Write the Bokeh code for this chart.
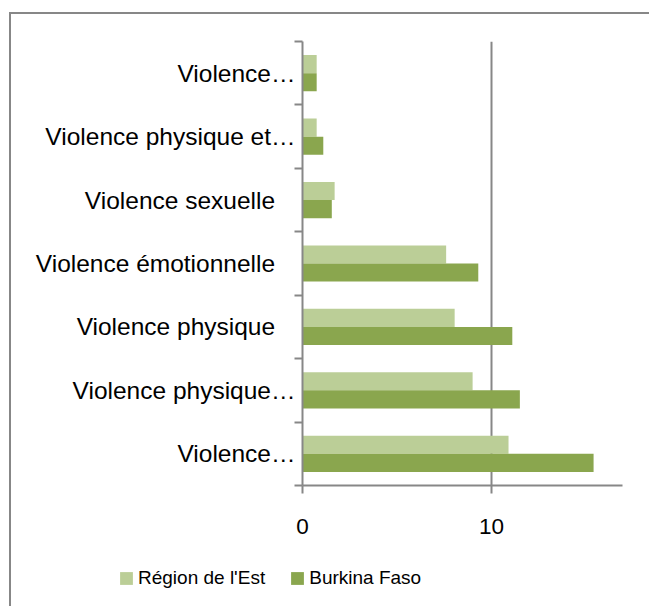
from bokeh.plotting import figure
from bokeh.models import ColumnDataSource, FixedTicker, Legend, LegendItem, Range1d
from bokeh.layouts import column
from bokeh.transform import dodge
from bokeh.embed import file_html
from bokeh.resources import INLINE

# Categories, top to bottom as shown
labels = ["Violence…", "Violence physique et…", "Violence sexuelle",
          "Violence émotionnelle", "Violence physique", "Violence physique…",
          "Violence…"]
region_est = [0.75, 0.75, 1.7, 7.6, 8.05, 9.0, 10.9]
burkina = [0.75, 1.1, 1.55, 9.3, 11.1, 11.5, 15.4]
series_names = ["Région de l'Est", "Burkina Faso"]
x_ticks = [0, 10]

LIGHT = "#BBCE97"
DARK = "#8AA64E"
GRAY = "#878787"
FONT = "Liberation Sans"

n = len(labels)
ypos = [n - 0.5 - i for i in range(n)]
src = ColumnDataSource(dict(y=ypos, region=region_est, burkina=burkina))

W = 638
H_MAIN, H_LEG = 534, 58
p = figure(width=W, height=H_MAIN, x_range=Range1d(0, 16.93), y_range=Range1d(0, n),
           output_backend="svg", toolbar_location=None,
           min_border_left=291, min_border_right=27, min_border_top=27,
           min_border_bottom=63)
p.frame_align = False
p.outline_line_color = None
p.background_fill_color = "white"
p.border_fill_color = "white"

bh = 1 / 3.5
off = bh / 2
r1 = p.hbar(y=dodge("y", off), left=0, right="region", height=bh, color=LIGHT,
            line_color=None, source=src)
r2 = p.hbar(y=dodge("y", -off), left=0, right="burkina", height=bh, color=DARK,
            line_color=None, source=src)

p.xgrid.ticker = FixedTicker(ticks=[10])
p.xgrid.grid_line_color = GRAY
p.xgrid.grid_line_width = 2
p.ygrid.grid_line_color = None

pad = {"Violence sexuelle": "\u00a0\u00a0\u00a0", "Violence émotionnelle": "\u00a0\u00a0\u00a0",
       "Violence physique": "\u00a0\u00a0\u00a0"}
ya = p.yaxis[0]
ya.ticker = FixedTicker(ticks=ypos, minor_ticks=list(range(n + 1)))
ya.major_label_overrides = {ypos[i]: labels[i] + pad.get(labels[i], "") for i in range(n)}
ya.major_tick_line_color = None
ya.major_tick_out = 0
ya.major_tick_in = 0
ya.minor_tick_out = 8
ya.minor_tick_in = 0
ya.minor_tick_line_color = GRAY
ya.minor_tick_line_width = 2
ya.axis_line_color = GRAY
ya.axis_line_width = 2
ya.major_label_text_font = FONT
ya.major_label_text_font_size = "24.5px"
ya.major_label_text_color = "black"
ya.major_label_standoff = -1

xa = p.xaxis[0]
xa.ticker = FixedTicker(ticks=x_ticks)
xa.major_tick_out = 8
xa.major_tick_in = 0
xa.major_tick_line_color = GRAY
xa.major_tick_line_width = 2
xa.minor_tick_line_color = None
xa.axis_line_color = GRAY
xa.axis_line_width = 2
xa.major_label_text_font = FONT
xa.major_label_text_font_size = "22.5px"
xa.major_label_text_color = "black"
xa.major_label_standoff = 25

# Legend strip below the plot, inside the same chart box
pl = figure(width=W, height=H_LEG, x_range=Range1d(0, 1), y_range=Range1d(100, 101),
            output_backend="svg", toolbar_location=None,
            x_axis_type=None, y_axis_type=None,
            min_border_left=0, min_border_right=0, min_border_top=0, min_border_bottom=0)
pl.frame_align = False
pl.outline_line_color = None
pl.grid.grid_line_color = None
pl.background_fill_color = "white"
pl.border_fill_color = "white"
lg1 = pl.hbar(y="y", left=0, right="region", height=bh, color=LIGHT, line_color=None, source=src)
lg2 = pl.hbar(y="y", left=0, right="burkina", height=bh, color=DARK, line_color=None, source=src)
legend = Legend(items=[LegendItem(label=series_names[0], renderers=[lg1]),
                       LegendItem(label=series_names[1], renderers=[lg2])],
                orientation="horizontal", location=(107, 17),
                glyph_width=16, glyph_height=16, label_text_font=FONT,
                label_text_font_size="19px", label_text_color="black",
                padding=0, margin=0, spacing=24, label_standoff=4,
                border_line_color=None, background_fill_alpha=0)
pl.add_layout(legend)

layout = column(p, pl, spacing=0)
layout.styles = {"border-top": "2px solid #878787", "border-left": "2px solid #878787",
                 "margin-top": "12px", "margin-left": "9px"}

open("out.html", "w").write(file_html(layout, INLINE))
